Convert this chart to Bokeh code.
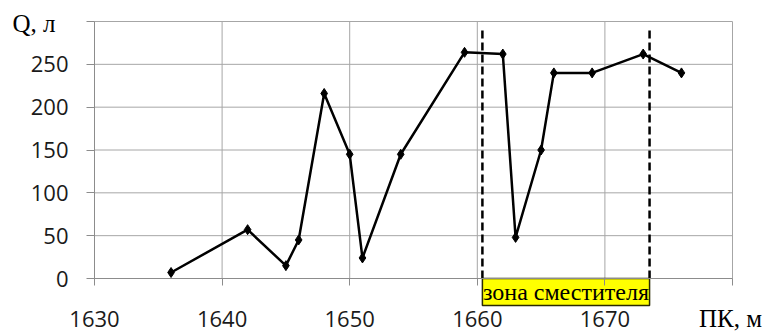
from bokeh.plotting import figure
from bokeh.models import Range1d, FixedTicker
from bokeh.core.properties import value
from bokeh.embed import file_html
from bokeh.resources import INLINE

# Data
pk = [1636, 1642, 1645, 1646, 1648, 1650, 1651, 1654, 1659, 1662, 1663, 1665, 1666, 1669, 1673, 1676]
q = [7, 57, 15, 45, 216, 145, 24, 145, 264, 262, 48, 150, 240, 240, 262, 240]
zone_bounds = [1660.4, 1673.5]
x_ticks = [1630, 1640, 1650, 1660, 1670, 1680]
y_ticks = [0, 50, 100, 150, 200, 250, 300]
x_min, x_max = x_ticks[0], x_ticks[-1]
y_min, y_max = y_ticks[0], y_ticks[-1]

W, H = 770, 331
FL, FR, FT, FB = 94, 732, 21, 278          # plot area in pixels
sx = (FR - FL) / (x_max - x_min)
sy = (FB - FT) / (y_max - y_min)
TXT_SHIFT = 9                               # svg baseline correction

def px_x(px):
    return x_min + (px - FL) / sx

def px_y(py):
    return y_min + (FB - py) / sy

GRID = "#a6a6a6"
AXIS = "#8c8c8c"
serif = "Liberation Serif"

p = figure(width=W, height=H, output_backend="svg", toolbar_location=None,
           x_range=Range1d(px_x(0), px_x(W)), y_range=Range1d(px_y(H), px_y(0)),
           min_border=0, min_border_left=0, min_border_right=0,
           min_border_top=0, min_border_bottom=0)
p.background_fill_color = "white"
p.border_fill_color = "white"
p.outline_line_color = None
p.grid.grid_line_color = None

# grid
p.segment(x0=x_ticks, y0=[y_min] * len(x_ticks), x1=x_ticks, y1=[y_max] * len(x_ticks),
          line_color=GRID, line_width=1)
p.segment(x0=[x_min] * len(y_ticks), y0=y_ticks, x1=[x_max] * len(y_ticks), y1=y_ticks,
          line_color=GRID, line_width=1)

# axes
p.xaxis.fixed_location = y_min
p.yaxis.fixed_location = x_min
p.xaxis.bounds = (x_min, x_max)
p.yaxis.bounds = (y_min, y_max)
p.xaxis.ticker = FixedTicker(ticks=x_ticks)
p.yaxis.ticker = FixedTicker(ticks=y_ticks)
p.xaxis.major_label_overrides = {1680: ""}
p.yaxis.major_label_overrides = {300: ""}
for ax in (p.xaxis, p.yaxis):
    ax.axis_line_color = AXIS
    ax.major_tick_line_color = AXIS
    ax.minor_tick_line_color = None
    ax.major_tick_in = 0
    ax.major_label_text_font = "Open Sans"
    ax.major_label_text_font_size = "22px"
    ax.major_label_text_color = "#1a1a1a"
p.xaxis.major_tick_out = 7
p.yaxis.major_tick_out = 8
p.xaxis.major_label_standoff = 25
p.yaxis.major_label_standoff = 18

# zone of the fault: dashed bounds and yellow label box
p.segment(x0=zone_bounds, y0=[px_y(30)] * 2, x1=zone_bounds, y1=[px_y(278)] * 2,
          line_color="black", line_width=2.5, line_dash="8 4")
p.quad(left=[zone_bounds[0]], right=[zone_bounds[1]], top=[px_y(278)], bottom=[px_y(305)],
       fill_color="#ffff00", line_color="#2b2b00", line_width=1.5)
p.text(x=[(zone_bounds[0] + zone_bounds[1]) / 2], y=[px_y(300 - TXT_SHIFT)], text=["зона сместителя"],
       text_font=value(serif), text_font_size="24px", text_align="center",
       text_baseline="alphabetic", text_color="black")

# data line
p.line(pk, q, line_color="black", line_width=2.5)
p.scatter(pk, q, marker="diamond", size=10, color="black")

# axis titles
p.text(x=[px_x(12)], y=[px_y(32 - TXT_SHIFT)], text=["Q, л"], text_font=value(serif),
       text_font_size="25px", text_align="left", text_baseline="alphabetic", text_color="black")
p.text(x=[px_x(730)], y=[px_y(327 - TXT_SHIFT)], text=["ПК, м"], text_font=value(serif),
       text_font_size="25px", text_align="center", text_baseline="alphabetic", text_color="black")

open("out.html", "w").write(file_html(p, INLINE))
